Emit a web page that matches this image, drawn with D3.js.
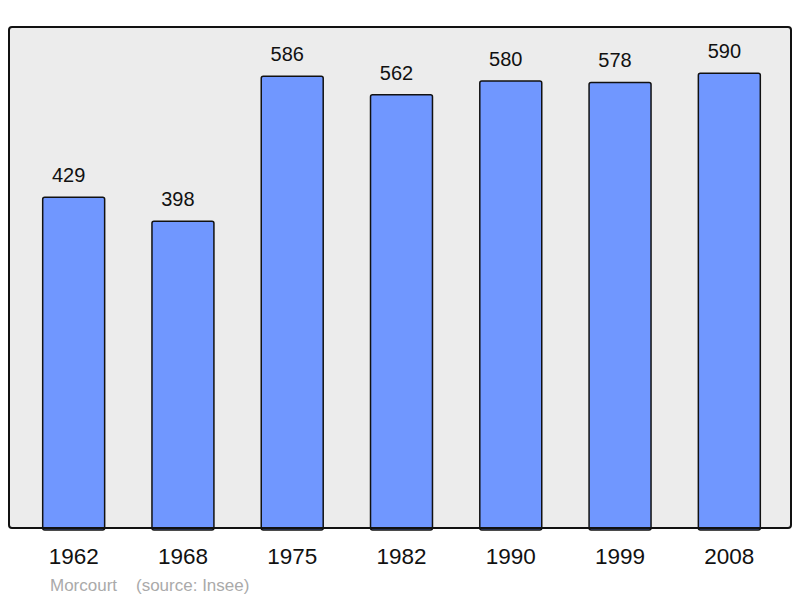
<!DOCTYPE html>
<html>
<head>
<meta charset="utf-8">
<script src="https://cdn.jsdelivr.net/npm/d3@7"></script>
<style>
  body { margin: 0; background: #fff; }
  text { font-family: "Liberation Sans", Arial, sans-serif; }
</style>
</head>
<body>
<svg id="chart" width="800" height="598"></svg>
<script>
const years = ["1962", "1968", "1975", "1982", "1990", "1999", "2008"];
const population = [429, 398, 586, 562, 580, 578, 590];
const place = "Morcourt";
const source = "(source: Insee)";

const svg = d3.select("#chart");
const panelLeft = 9, panelRight = 791, panelTop = 27, panelBottom = 528;

const x = d3.scaleBand()
    .domain(years)
    .range([panelLeft + 2, panelRight + 1])
    .paddingInner(0.433)
    .paddingOuter(0.29);

const y = d3.scaleLinear()
    .domain([0, 650])
    .range([panelBottom, panelTop]);

// panel
svg.append("rect")
    .attr("x", panelLeft)
    .attr("y", panelTop)
    .attr("width", panelRight - panelLeft)
    .attr("height", panelBottom - panelTop)
    .attr("rx", 2)
    .attr("fill", "#ececec")
    .attr("stroke", "none");

const data = years.map((yr, i) => ({ year: yr, value: population[i] }));

svg.selectAll(".bar")
    .data(data)
    .enter().append("rect")
    .attr("class", "bar")
    .attr("x", d => x(d.year))
    .attr("y", d => y(d.value))
    .attr("width", x.bandwidth())
    .attr("height", d => panelBottom - y(d.value) + 2)
    .attr("rx", 2)
    .attr("fill", "#7097ff")
    .attr("stroke", "#111")
    .attr("stroke-width", 1.5);

// panel border on top
svg.append("rect")
    .attr("x", panelLeft)
    .attr("y", panelTop)
    .attr("width", panelRight - panelLeft)
    .attr("height", panelBottom - panelTop)
    .attr("rx", 3)
    .attr("fill", "none")
    .attr("stroke", "#111")
    .attr("stroke-width", 2);

// value labels sit a little left of the bar centre in the original
svg.selectAll(".val")
    .data(data)
    .enter().append("text")
    .attr("class", "val")
    .attr("x", d => x(d.year) + x.bandwidth() / 2 - 5)
    .attr("y", d => y(d.value) - 15)
    .attr("text-anchor", "middle")
    .attr("font-size", 20)
    .attr("fill", "#111")
    .text(d => d.value);

const xAxis = svg.append("g")
    .attr("transform", `translate(0,${panelBottom})`)
    .call(d3.axisBottom(x).tickSize(0).tickPadding(0));
xAxis.select(".domain").remove();
xAxis.selectAll("text")
    .attr("y", 36)
    .attr("dy", 0)
    .attr("font-size", 22.5)
    .attr("font-family", "Liberation Sans, Arial, sans-serif")
    .attr("fill", "#111");

svg.append("text")
    .attr("x", 50)
    .attr("y", 591)
    .attr("font-size", 17)
    .attr("fill", "#aaa")
    .text(place);

svg.append("text")
    .attr("x", 136)
    .attr("y", 591)
    .attr("font-size", 17)
    .attr("fill", "#aaa")
    .text(source);
</script>
</body>
</html>
